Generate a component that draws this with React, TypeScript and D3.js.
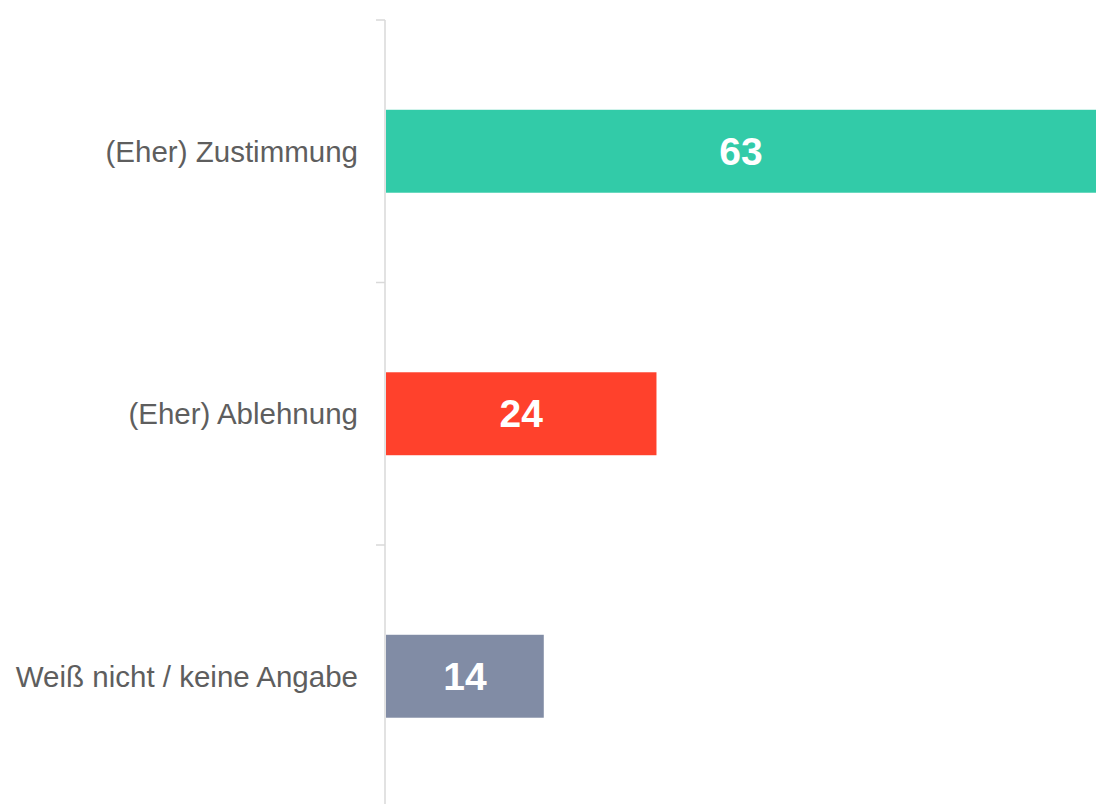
import React, { useEffect, useRef } from "react";
import * as d3 from "d3";

const categories = ["(Eher) Zustimmung", "(Eher) Ablehnung", "Weiß nicht / keine Angabe"];
const values = [63, 24, 14];
const colors = ["#32CBA8", "#FF412C", "#818CA5"];

const WIDTH = 1106;
const HEIGHT = 804;

export default function App() {
  const ref = useRef<SVGSVGElement | null>(null);

  useEffect(() => {
    if (!ref.current) return;
    const svg = d3.select(ref.current);
    svg.selectAll("*").remove();

    const axisX = 385;
    const top = 20;
    const bottom = 807.5;

    // category slots, ticks sit on the slot edges
    const yScale = d3.scaleBand<string>().domain(categories).range([top, bottom]).padding(0);
    // bars sit in the middle of each slot
    const yBar = d3
      .scaleBand<string>()
      .domain(categories)
      .range([top, bottom])
      .paddingInner(0.684)
      .paddingOuter(0.342);

    const xScale = d3.scaleLinear().domain([0, 63]).range([axisX + 1, 1096]);

    const data = categories.map((c, i) => ({ cat: c, value: values[i], color: colors[i] }));

    // axis line + ticks
    const axis = svg.append("g").attr("class", "axis");
    axis
      .append("line")
      .attr("x1", axisX)
      .attr("x2", axisX)
      .attr("y1", top)
      .attr("y2", bottom)
      .attr("stroke", "#d9d9d9")
      .attr("stroke-width", 1.5);

    const tickPositions = categories.map((c) => yScale(c) as number).concat([bottom]);
    axis
      .selectAll(".tick")
      .data(tickPositions)
      .enter()
      .append("line")
      .attr("class", "tick")
      .attr("x1", axisX - 9)
      .attr("x2", axisX)
      .attr("y1", (d) => d)
      .attr("y2", (d) => d)
      .attr("stroke", "#d9d9d9")
      .attr("stroke-width", 1.5);

    // category labels
    svg
      .selectAll(".cat-label")
      .data(data)
      .enter()
      .append("text")
      .attr("class", "cat-label")
      .attr("x", 358)
      .attr("y", (d) => (yScale(d.cat) as number) + yScale.bandwidth() / 2)
      .attr("text-anchor", "end")
      .attr("dominant-baseline", "central")
      .style("font-family", "'Liberation Sans', Arial, sans-serif")
      .style("font-size", "29.5px")
      .attr("fill", "#5e5e5e")
      .text((d) => d.cat);

    // bars
    svg
      .selectAll(".bar")
      .data(data)
      .enter()
      .append("rect")
      .attr("class", "bar")
      .attr("x", xScale(0))
      .attr("y", (d) => yBar(d.cat) as number)
      .attr("width", (d) => xScale(d.value) - xScale(0))
      .attr("height", yBar.bandwidth())
      .attr("fill", (d) => d.color);

    // value labels
    svg
      .selectAll(".val-label")
      .data(data)
      .enter()
      .append("text")
      .attr("class", "val-label")
      .attr("x", (d) => (xScale(0) + xScale(d.value)) / 2)
      .attr("y", (d) => (yBar(d.cat) as number) + yBar.bandwidth() / 2)
      .attr("text-anchor", "middle")
      .attr("dominant-baseline", "central")
      .style("font-family", "'Liberation Sans', Arial, sans-serif")
      .style("font-size", "39px")
      .style("font-weight", "bold")
      .attr("fill", "#ffffff")
      .text((d) => d.value);
  }, []);

  return (
    <div style={{ position: "absolute", left: 0, top: 0, width: WIDTH, height: HEIGHT, background: "#fff" }}>
      <svg ref={ref} width={WIDTH} height={HEIGHT} style={{ display: "block" }} />
    </div>
  );
}
